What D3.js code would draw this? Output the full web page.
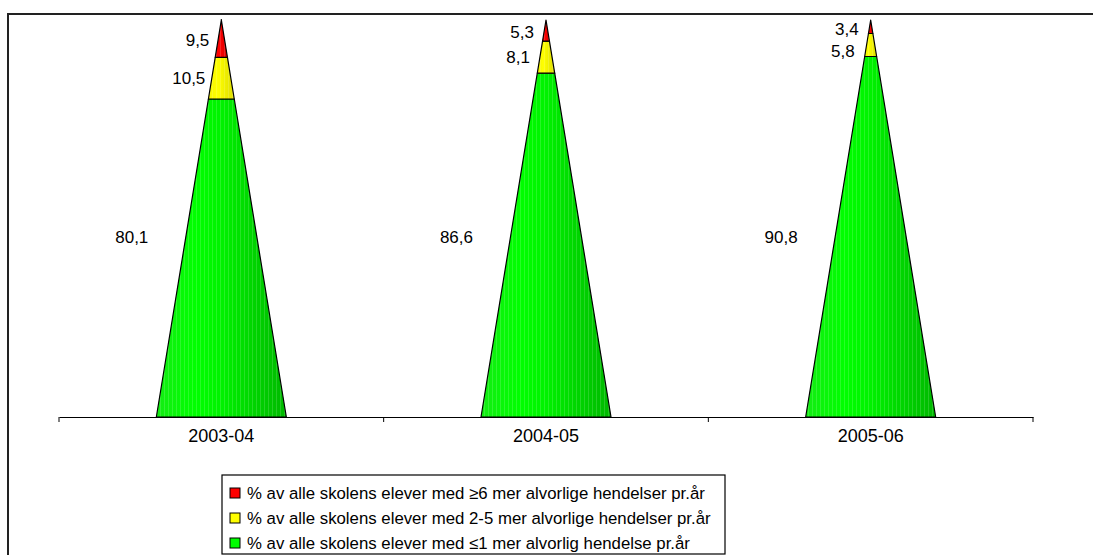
<!DOCTYPE html>
<html>
<head>
<meta charset="utf-8">
<script src="https://cdn.jsdelivr.net/npm/d3@7"></script>
<style>
  html, body { margin: 0; padding: 0; background: #fff; }
  svg { display: block; font-family: "Liberation Sans", Arial, sans-serif; }
</style>
</head>
<body>
<svg id="chart" width="1093" height="555"></svg>
<script>
// School years on the x axis
const years = ["2003-04", "2004-05", "2005-06"];
// Share of pupils (%) per number of serious incidents per year
const low  = [80.1, 86.6, 90.8];   // ≤1 incident
const mid  = [10.5, 8.1, 5.8];     // 2-5 incidents
const high = [9.5, 5.3, 3.4];      // ≥6 incidents
const seriesNames = [
  "% av alle skolens elever med ≥6 mer alvorlige hendelser pr.år",
  "% av alle skolens elever med 2-5 mer alvorlige hendelser pr.år",
  "% av alle skolens elever med ≤1 mer alvorlig hendelse pr.år"
];

const svg = d3.select("#chart");
const W = 1093, H = 555;

// frame of the chart area (partly outside the visible window)
svg.append("rect").attr("x", 8).attr("y", 14).attr("width", W + 20).attr("height", H + 20)
  .attr("fill", "#fff").attr("stroke", "#222").attr("stroke-width", 2);

const x = d3.scaleBand().domain(years).range([59, 1033]).padding(0);
const y = d3.scaleLinear().domain([0, 100]).range([417, 20]);
const baseHalf = 65;

// stacked segments, bottom to top
const layers = [
  { key: "low",  vals: low,  color: "green" },
  { key: "mid",  vals: mid,  color: "yellow" },
  { key: "high", vals: high, color: "red" }
];

const defs = svg.append("defs");
const gradStops = {
  green:  [["0%", "#14ec14"], ["30%", "#00ff00"], ["50%", "#00f200"], ["75%", "#00d400"], ["100%", "#00b800"]],
  yellow: [["0%", "#f4f400"], ["35%", "#ffff00"], ["100%", "#dcdc00"]],
  red:    [["0%", "#f40000"], ["35%", "#ff0000"], ["100%", "#d40000"]]
};
Object.entries(gradStops).forEach(([name, stops]) => {
  const g = defs.append("linearGradient").attr("id", "g-" + name)
    .attr("x1", "0%").attr("x2", "100%").attr("y1", "0%").attr("y2", "0%");
  stops.forEach(([o, c]) => g.append("stop").attr("offset", o).attr("stop-color", c));
});
// faint vertical striping on the cone surface
const pat = defs.append("pattern").attr("id", "stripes").attr("patternUnits", "userSpaceOnUse")
  .attr("width", 4).attr("height", 10);
pat.append("rect").attr("x", 0).attr("y", 0).attr("width", 1).attr("height", 10)
  .attr("fill", "#fff").attr("opacity", 0.15);

// half width of the cone at a given pixel height
const halfAt = py => baseHalf * (py - y(100)) / (y(0) - y(100));

const mids = { low: [], mid: [], high: [] };
const cones = svg.append("g");
years.forEach((yr, i) => {
  const cx = x(yr) + x.bandwidth() / 2;
  let acc = 0;
  layers.forEach(layer => {
    const v0 = acc, v1 = acc + layer.vals[i];
    acc = v1;
    const yb = y(v0), yt = y(v1);
    const hb = halfAt(yb), ht = halfAt(yt);
    const pts = [[cx - hb, yb], [cx + hb, yb], [cx + ht, yt], [cx - ht, yt]];
    const d = "M" + pts.map(p => p.join(",")).join("L") + "Z";
    const grp = cones.append("g");
    grp.append("path").attr("d", d).attr("fill", `url(#g-${layer.color})`);
    grp.append("path").attr("d", d).attr("fill", "url(#stripes)");
    grp.append("path").attr("d", d).attr("fill", "none").attr("stroke", "#000").attr("stroke-width", 1.2)
      .attr("stroke-linejoin", "round");
    mids[layer.key][i] = (yb + yt) / 2;
  });
});

// value labels, left of each cone
const fmt = v => d3.format(".1f")(v).replace(".", ",");
const labels = svg.append("g").attr("font-size", 17).attr("fill", "#000").attr("text-anchor", "end");
years.forEach((yr, i) => {
  const cx = x(yr) + x.bandwidth() / 2;
  const yHigh = mids.high[i] + 2;
  const yMid = Math.max(mids.mid[i], yHigh + 22);   // keep the two top labels apart
  labels.append("text").attr("x", cx - 73).attr("y", 237).attr("dy", "0.35em").text(fmt(low[i]));
  labels.append("text").attr("x", cx - 16).attr("y", yMid).attr("dy", "0.35em").text(fmt(mid[i]));
  labels.append("text").attr("x", cx - 12).attr("y", yHigh).attr("dy", "0.35em").text(fmt(high[i]));
});

// category axis
const axis = d3.axisBottom(x).tickSize(0).tickPadding(12);
const ax = svg.append("g").attr("transform", "translate(0,417)").call(axis);
ax.select(".domain").attr("stroke", "#000").attr("stroke-width", 1);
ax.selectAll("text").attr("font-size", 18).attr("fill", "#000")
  .attr("font-family", "'Liberation Sans', Arial, sans-serif");
// tick marks at the category boundaries
const bounds = years.map(d => x(d)).concat([x.range()[1]]);
ax.selectAll(".bound").data(bounds).enter().append("line").attr("class", "bound")
  .attr("x1", d => d).attr("x2", d => d).attr("y1", 0).attr("y2", 5)
  .attr("stroke", "#000").attr("stroke-width", 1);

// legend
const lg = svg.append("g");
lg.append("rect").attr("x", 222).attr("y", 475).attr("width", 503).attr("height", 79)
  .attr("fill", "#fff").attr("stroke", "#000").attr("stroke-width", 1.2);
const legendColors = ["#ff0000", "#ffff00", "#00ff00"];
seriesNames.forEach((name, j) => {
  const cy = 493 + j * 25;
  lg.append("rect").attr("x", 230).attr("y", cy - 5).attr("width", 10).attr("height", 10)
    .attr("fill", legendColors[j]).attr("stroke", "#000").attr("stroke-width", 1);
  lg.append("text").attr("x", 247).attr("y", cy).attr("dy", "0.35em").attr("font-size", 16.8)
    .attr("fill", "#000").text(name);
});
</script>
</body>
</html>
